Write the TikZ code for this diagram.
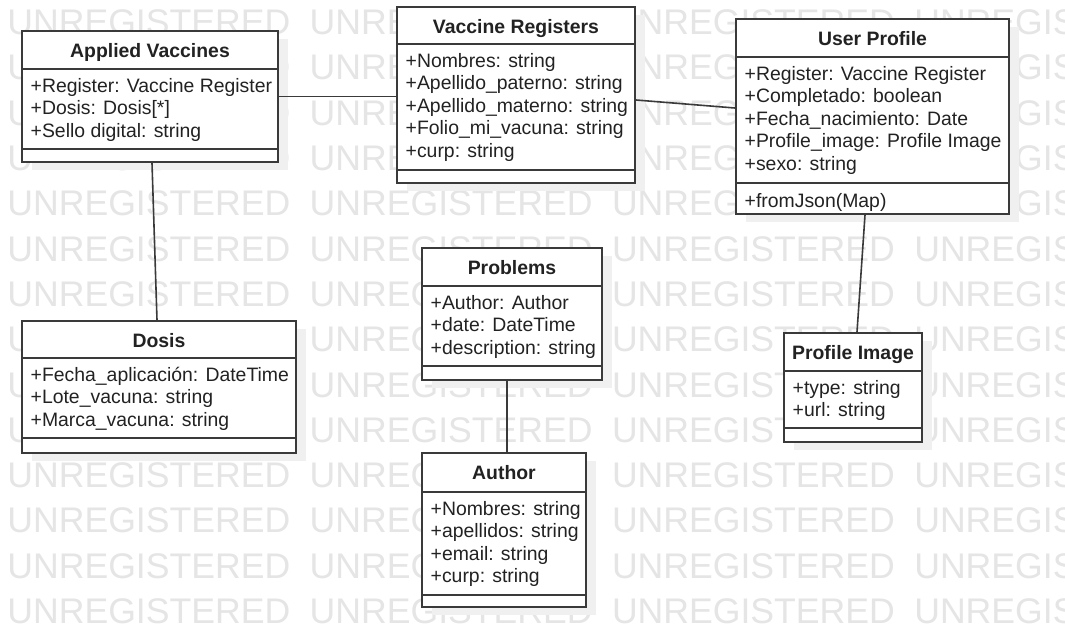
\documentclass[tikz,border=0pt]{standalone}
\usepackage{fontspec}
\setmainfont{Liberation Sans}
\usetikzlibrary{fit,calc}
\definecolor{wm}{gray}{0.9}
\definecolor{ln}{HTML}{3A3A3A}
\definecolor{tx}{HTML}{222222}
\definecolor{shd}{gray}{0.94}
\tikzset{
  classbox/.style={draw=ln, line width=2pt, fill=white, inner sep=0pt},
  divider/.style={draw=ln, line width=1.7pt},
  ctitle/.style={anchor=base, inner sep=0pt, text=tx, font=\bfseries\fontsize{19.4}{22}\selectfont},
  cattr/.style={anchor=base west, inner sep=0pt, text=tx, font=\fontsize{19.4}{22}\selectfont},
  wmark/.style={anchor=base west, inner sep=0pt, text=wm, font=\fontsize{35.6}{40}\selectfont},
  assoc/.style={draw=ln, line width=1.6pt},
}
\newcommand\umlclass[9]{%
  \fill[shd] (#2+10,#3+8) rectangle (#4+10,#5+8);
  \path (#2,#3) coordinate (#1-nw) (#4,#5) coordinate (#1-se);
  \node[classbox, fit=(#1-nw)(#1-se)] (#1) {};
  \draw[divider] (#2,#6) -- (#4,#6);
  \draw[divider] (#2,#7) -- (#4,#7);
  \node[ctitle] (#1-title) at ({(#2+#4)/2},#3+26) {#8};
  \foreach \attrtext [count=\i] in {#9}
    \node[cattr] (#1-a\i) at (#2+8.5,{#6+23.5+22.4*(\i-1)}) {\attrtext};
}
\begin{document}
\begin{tikzpicture}[x=1pt,y=-1pt]
\useasboundingbox (0,0) rectangle (1065,625);
\fill[white] (0,0) rectangle (1065,625);
\begin{scope}
\clip (0,0) rectangle (1065,625);
\foreach \k in {0,...,13}
  \foreach \j in {0,...,3}
    \node[wmark] (wm-\k-\j) at (7.2+302.3*\j, 34.6+45.3*\k) {UNREGISTERED};
\end{scope}

\umlclass{av}{22}{31}{278}{162}{69}{149}{Applied Vaccines}{+Register: Vaccine Register, +Dosis: Dosis[*], +Sello digital: string}
\umlclass{vr}{397}{7}{635}{183}{44}{170}{Vaccine Registers}{+Nombres: string, +Apellido\_paterno: string, +Apellido\_materno: string, +Folio\_mi\_vacuna: string, +curp: string}
\umlclass{up}{736}{19}{1009}{214}{57}{183}{User Profile}{+Register: Vaccine Register, +Completado: boolean, +Fecha\_nacimiento: Date, +Profile\_image: Profile Image, +sexo: string}
\node[cattr] (up-o1) at (744.5,207) {+fromJson(Map)};
\umlclass{do}{22}{321}{296}{453}{358}{438}{Dosis}{+Fecha\_aplicación: DateTime, +Lote\_vacuna: string, +Marca\_vacuna: string}
\umlclass{pr}{422}{248}{602}{380}{286}{366}{Problems}{+Author: Author, +date: DateTime, +description: string}
\umlclass{au}{422}{453}{586}{607}{492}{595}{Author}{+Nombres: string, +apellidos: string, +email: string, +curp: string}
\umlclass{pi}{784}{333}{922}{442}{371}{428}{Profile Image}{+type: string, +url: string}

\draw[assoc] (av.east) -- (av.east -| vr.west);
\draw[assoc] ([yshift=-5pt]vr.east) -- ([yshift=8.5pt]up.west);
\draw[assoc] ([xshift=2pt]av.south) -- ([xshift=-2pt]do.north);
\draw[assoc] ([xshift=-5pt]pr.south) -- ([xshift=3pt]au.north);
\draw[assoc] ([xshift=-7.5pt]up.south) -- ([xshift=4pt]pi.north);
\end{tikzpicture}
\end{document}
